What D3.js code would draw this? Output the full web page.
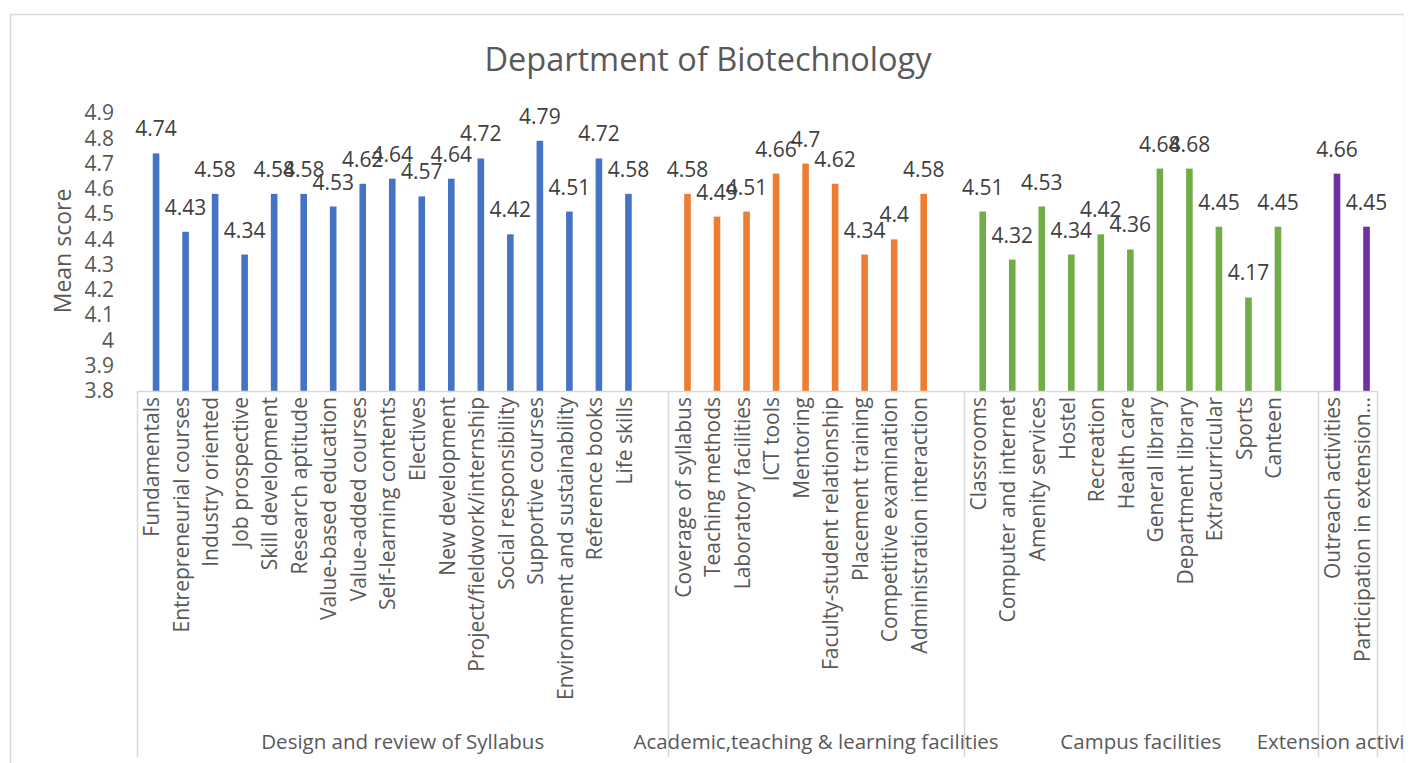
<!DOCTYPE html>
<html>
<head>
<meta charset="utf-8">
<script src="https://cdn.jsdelivr.net/npm/d3@7"></script>
<style>
  body { margin: 0; background: #fff; }
  text { font-family: "Open Sans", "Noto Sans", sans-serif; fill: #595959; }
</style>
</head>
<body>
<svg id="chart" width="1408" height="763"></svg>
<script>
// groups and their categories / mean scores
const groups = ["Design and review of Syllabus", "Academic,teaching & learning facilities", "Campus facilities", "Extension activities"];
const groupColors = ["#4472C4", "#ED7D31", "#70AD47", "#7030A0"];

const syllabusItems = ["Fundamentals", "Entrepreneurial courses", "Industry oriented", "Job prospective", "Skill development",
  "Research aptitude", "Value-based education", "Value-added courses", "Self-learning contents", "Electives",
  "New development", "Project/fieldwork/internship", "Social responsibility", "Supportive courses",
  "Environment and sustainability", "Reference books", "Life skills"];
const syllabusScores = [4.74, 4.43, 4.58, 4.34, 4.58, 4.58, 4.53, 4.62, 4.64, 4.57, 4.64, 4.72, 4.42, 4.79, 4.51, 4.72, 4.58];

const academicItems = ["Coverage of syllabus", "Teaching methods", "Laboratory facilities", "ICT tools", "Mentoring",
  "Faculty-student relationship", "Placement training", "Competitive examination", "Administration interaction"];
const academicScores = [4.58, 4.49, 4.51, 4.66, 4.7, 4.62, 4.34, 4.4, 4.58];

const campusItems = ["Classrooms", "Computer and internet", "Amenity services", "Hostel", "Recreation", "Health care",
  "General library", "Department library", "Extracurricular", "Sports", "Canteen"];
const campusScores = [4.51, 4.32, 4.53, 4.34, 4.42, 4.36, 4.68, 4.68, 4.45, 4.17, 4.45];

const extensionItems = ["Outreach activities", "Participation in extension…"];
const extensionScores = [4.66, 4.45];

const yTicks = [3.8, 3.9, 4, 4.1, 4.2, 4.3, 4.4, 4.5, 4.6, 4.7, 4.8, 4.9];

// build slot list (Excel leaves an empty category at the end of each group but the last)
const itemLists = [syllabusItems, academicItems, campusItems, extensionItems];
const scoreLists = [syllabusScores, academicScores, campusScores, extensionScores];
const slots = [];
const bars = [];
const groupSpans = [];
itemLists.forEach((items, gi) => {
  const start = slots.length;
  items.forEach((name, i) => {
    const key = gi + "|" + i;
    slots.push(key);
    bars.push({ key, name, value: scoreLists[gi][i], group: gi });
  });
  if (gi < itemLists.length - 1) slots.push(gi + "|blank");
  groupSpans.push({ group: gi, first: slots[start], last: slots[slots.length - 1] });
});

const svg = d3.select("#chart");
const W = 1408, H = 763;

const x = d3.scaleBand().domain(slots).range([137, 1377]).padding(0);
const y = d3.scaleLinear().domain([3.8, 4.9]).range([391, 113]);
// bars sit a little right of the slot centre in the original
const barCenter = d => x(d.key) + x.bandwidth() / 2 + 4.3;

svg.append("defs").append("clipPath").attr("id", "clip")
  .append("rect").attr("x", 0).attr("y", 0).attr("width", 1404).attr("height", H);

const root = svg.append("g").attr("clip-path", "url(#clip)");

// chart border
root.append("rect")
  .attr("x", 10.5).attr("y", 14.5).attr("width", 1394).attr("height", H)
  .attr("fill", "none").attr("stroke", "#d9d9d9").attr("stroke-width", 1.5);

// title
root.append("text")
  .attr("x", 708).attr("y", 71)
  .attr("text-anchor", "middle")
  .style("font-size", "32.5px")
  .text("Department of Biotechnology");

// y axis title
root.append("text")
  .attr("transform", "translate(71,251) rotate(-90)")
  .attr("text-anchor", "middle")
  .style("font-size", "23px")
  .text("Mean score");

// y axis (labels only)
const yAxis = root.append("g")
  .attr("transform", "translate(137,0)")
  .call(d3.axisLeft(y).tickValues(yTicks).tickSize(0).tickPadding(23)
    .tickFormat(d => String(+d.toFixed(1))));
yAxis.select(".domain").remove();
yAxis.selectAll("text").style("font-size", "21px").attr("fill", "#595959")
  .style("font-family", "'Open Sans', sans-serif");

// bars
root.append("g").selectAll("rect")
  .data(bars)
  .join("rect")
  .attr("x", d => barCenter(d) - 3.3)
  .attr("width", 6.6)
  .attr("y", d => y(d.value))
  .attr("height", d => y(3.8) - y(d.value))
  .attr("fill", d => groupColors[d.group]);

// data labels
root.append("g").selectAll("text")
  .data(bars)
  .join("text")
  .attr("x", d => barCenter(d))
  .attr("y", d => y(d.value) - 17)
  .attr("text-anchor", "middle")
  .style("font-size", "21px")
  .style("fill", "#404040")
  .text(d => String(d.value));

// category axis line
const axisColor = "#d9d9d9";
root.append("line")
  .attr("x1", 137).attr("x2", 1377)
  .attr("y1", 391.5).attr("y2", 391.5)
  .attr("stroke", axisColor).attr("stroke-width", 1.5);

// group boundaries
const boundaries = [137];
groupSpans.forEach(s => boundaries.push(x(s.last) + x.bandwidth()));
root.append("g").selectAll("line")
  .data(boundaries)
  .join("line")
  .attr("x1", d => Math.round(d) + 0.5).attr("x2", d => Math.round(d) + 0.5)
  .attr("y1", 391).attr("y2", 757)
  .attr("stroke", axisColor).attr("stroke-width", 1.5);

// category labels
root.append("g").selectAll("text")
  .data(bars)
  .join("text")
  .attr("transform", d => `translate(${x(d.key) + x.bandwidth() / 2 + 7.5},397) rotate(-90)`)
  .attr("text-anchor", "end")
  .style("font-size", "21px")
  .text(d => d.name);

// group labels
root.append("g").selectAll("text")
  .data(groupSpans)
  .join("text")
  .attr("x", d => (x(d.first) + x(d.last) + x.bandwidth()) / 2)
  .attr("y", 749)
  .attr("text-anchor", "middle")
  .style("font-size", "20.5px")
  .text(d => groups[d.group]);
</script>
</body>
</html>
